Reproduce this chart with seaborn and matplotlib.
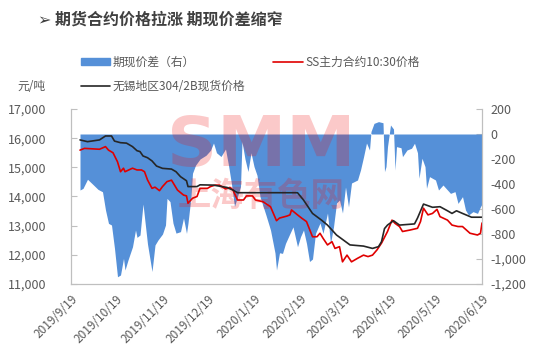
import numpy as np, pandas as pd
import matplotlib; matplotlib.use("Agg")
import matplotlib.pyplot as plt
import matplotlib.ticker as mticker
from matplotlib.patches import Patch
from matplotlib.lines import Line2D
import seaborn as sns

sns.set_theme(style="white")
plt.rcParams["font.family"] = ["Noto Sans CJK SC", "DejaVu Sans"]
plt.rcParams["axes.unicode_minus"] = False

BASE = pd.Timestamp("2019-09-19")

# ---- data (days since 2019/9/19) ----
spot_days = [6, 11, 19, 23, 27, 29, 33, 37, 41, 44, 46, 48, 51, 54, 57, 61, 67, 70, 73, 77, 78,
             84, 86, 95, 104, 108, 111, 151, 155, 161, 167, 171, 177, 186, 195, 201, 205, 207,
             209, 211, 215, 219, 229, 231, 235, 241, 246, 251, 254, 257, 261, 267, 274]
spot_price = [15940, 15880, 15940, 16075, 16075, 15900, 15845, 15830, 15710, 15570, 15540, 15390,
              15330, 15220, 15045, 14965, 14940, 14850, 14680, 14540, 14340, 14340, 14400, 14390,
              14310, 14220, 14130, 14130, 13880, 13420, 13190, 13020, 12680, 12340, 12300, 12220,
              12280, 12450, 12900, 13020, 13170, 13020, 13060, 13260, 13740, 13630, 13650, 13510,
              13420, 13510, 13420, 13290, 13290]

fut_days = [6, 9, 19, 23, 25, 28, 31, 33, 35, 36, 41, 44, 47, 49, 51, 54, 56, 59, 61, 64, 67, 71,
            75, 77, 78, 81, 84, 86, 91, 93, 96, 99, 103, 106, 108, 111, 115, 117, 121, 123, 128,
            133, 137, 139, 144, 146, 147, 151, 154, 157, 161, 164, 166, 168, 171, 174, 176, 179,
            181, 184, 187, 191, 195, 198, 201, 204, 207, 211, 214, 216, 219, 221, 226, 231, 233,
            235, 238, 241, 244, 246, 251, 254, 258, 261, 266, 271, 273, 274]
fut_price = [15590, 15650, 15620, 15710, 15590, 15500, 15190, 14850, 14970, 14850, 14970, 14910,
             14910, 14850, 14570, 14280, 14320, 14200, 14340, 14510, 14560, 14220, 14050, 14020,
             13770, 13940, 14000, 14280, 14280, 14340, 14390, 14390, 14260, 14310, 14220, 13880,
             13880, 14020, 14020, 13880, 13820, 13650, 13170, 13260, 13330, 13370, 13540, 13370,
             13250, 13140, 12620, 12620, 12740, 12570, 12340, 12450, 12220, 12280, 11760, 11990,
             11760, 11880, 11990, 11940, 11990, 12170, 12400, 12800, 13190, 13080, 12970, 12800,
             12850, 12910, 13140, 13600, 13370, 13420, 13560, 13310, 13190, 13020, 12970, 12970,
             12740, 12680, 12740, 13090]

spread_days = [6, 8, 11, 15, 18, 21, 23, 25, 27, 29, 31, 33, 35, 36, 38, 41, 43, 44, 46, 48, 51,
               54, 56, 58, 61, 63, 64, 66, 68, 70, 73, 75, 77, 78, 80, 81, 83, 86, 90, 93, 95, 97,
               100, 103, 105, 107, 109, 111, 113, 114, 116, 118, 120, 122, 124, 126, 130, 133, 136,
               137, 139, 141, 143, 146, 148, 151, 153, 155, 157, 159, 161, 163, 166, 168, 171, 173,
               175, 177, 179, 181, 183, 185, 187, 191, 193, 195, 197, 199, 200, 202, 205, 208, 209,
               210, 211, 213, 215, 216, 217, 220, 221, 224, 227, 229, 231, 232, 234, 236, 237, 239,
               243, 245, 248, 253, 256, 258, 261, 263, 265, 268, 271, 273, 274]
spread = [-448, -435, -362, -408, -443, -462, -608, -715, -728, -915, -1142, -1128, -995, -1088,
          -1008, -902, -768, -827, -808, -560, -880, -1100, -888, -848, -800, -728, -515, -541,
          -713, -793, -781, -672, -795, -712, -501, -314, -250, -200, -170, -130, -72, -150, -180,
          -120, -250, -400, -580, -500, -420, -60, -200, -300, -150, -260, -330, -501, -650, -768,
          -952, -1088, -950, -955, -875, -795, -743, -902, -822, -768, -875, -1020, -1000, -795,
          -712, -795, -632, -875, -743, -552, -528, -632, -424, -584, -392, -368, -288, -184, -72,
          -128, 20, 85, 99, 90, -301, -261, -101, 72, 40, -288, -101, -110, -181, -128, -114, -74,
          -150, -354, -194, -261, -434, -341, -368, -448, -408, -475, -461, -555, -501, -608, -648,
          -621, -635, -581, -560]

month_ticks = pd.date_range("2019-09-19", periods=10, freq=pd.DateOffset(months=1))

def to_dates(days):
    return BASE + pd.to_timedelta(days, unit="D")

spot = pd.DataFrame({"date": to_dates(spot_days), "price": spot_price})
fut = pd.DataFrame({"date": to_dates(fut_days), "price": fut_price})
spr = pd.DataFrame({"date": to_dates(spread_days), "spread": spread})

TXT = "#595959"
BLUE = "#5590d8"
fig = plt.figure(figsize=(5.47, 3.54), dpi=100)
ax = fig.add_axes([71/547, 1-284/354, 411/547, 175/354])
ax2 = ax.twinx()

ax2.fill_between(spr["date"], 0, spr["spread"], color=BLUE, lw=0)
sns.lineplot(data=fut, x="date", y="price", ax=ax, color="#e00000", lw=1.2)
sns.lineplot(data=spot, x="date", y="price", ax=ax, color="#262626", lw=1.2)
ax.set_zorder(ax2.get_zorder() + 1)
ax.patch.set_visible(False)

ax.set_xlim(BASE, month_ticks[-1])
ax.set_ylim(11000, 17000)
ax2.set_ylim(-1200, 200)
ax.set_yticks(np.arange(11000, 17001, 1000))
ax2.set_yticks(np.arange(-1200, 201, 200))
fmt = mticker.FuncFormatter(lambda v, p: f"{v:,.0f}")
ax.yaxis.set_major_formatter(fmt)
ax2.yaxis.set_major_formatter(fmt)
ax.set_xticks(month_ticks)
ax.set_xticklabels([f"{d.year}/{d.month}/{d.day}" for d in month_ticks],
                   rotation=45, ha="right", rotation_mode="anchor")
ax.set_xlabel(""); ax.set_ylabel("")

for a in (ax, ax2):
    for s in a.spines.values():
        s.set_color("#bfbfbf"); s.set_linewidth(0.8)
    a.spines["top"].set_visible(False)
    a.tick_params(direction="in", length=4, width=0.8, color="#bfbfbf",
                  labelsize=9, labelcolor=TXT)
ax.tick_params(axis="x", pad=6, labelsize=8.5)
ax.tick_params(axis="y", pad=18)
ax2.tick_params(axis="y", pad=6)

# watermark (above the area, below the lines)
ax2.text(0.462, 0.675, "SMM", transform=ax2.transAxes, ha="center", va="baseline",
         fontsize=50, fontweight="bold", color="#f00a0a", alpha=0.22, family="DejaVu Sans",
         zorder=5)
ax2.text(0.462, 0.50, "上海有色网", transform=ax2.transAxes, ha="center", va="center",
         fontsize=24, fontweight="bold", color="#f00a0a", alpha=0.22, zorder=5)

fig.text(38/547, 1-20/354, "➢ 期货合约价格拉涨 期现价差缩窄", ha="left", va="center",
         fontsize=11.5, fontweight="bold", color="#404040")
fig.text(17/547, 1-87/354, "元/吨", ha="left", va="center", fontsize=8.5, color=TXT)

handles = [Patch(color=BLUE), Line2D([], [], color="#262626", lw=1.2),
           Line2D([], [], color="#e00000", lw=1.2)]
labels = ["期现价差（右）", "无锡地区304/2B现货价格", "SS主力合约10:30价格"]
fig.legend(handles, labels, ncol=2, loc="upper left", bbox_to_anchor=(70/547, 1-45/354),
           frameon=False, fontsize=8.5, labelcolor=TXT, handlelength=2.5, handleheight=0.6,
           handletextpad=0.2, labelspacing=1.0, columnspacing=2.4)

fig.savefig("out.png", dpi=100)
